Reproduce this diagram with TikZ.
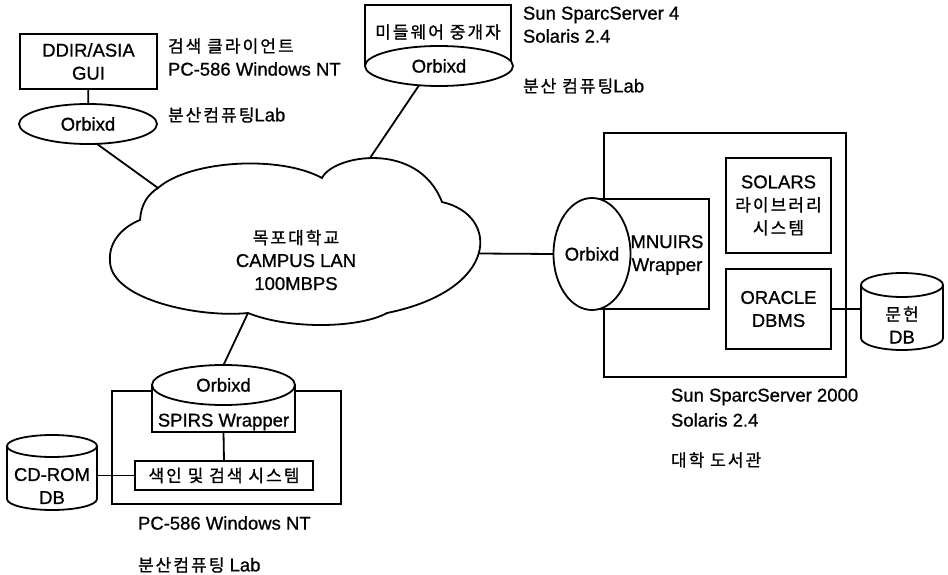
\documentclass[tikz,border=0pt]{standalone}
\usepackage{fontspec}
\setmainfont[FakeBold=0.9]{Liberation Sans}
\newfontfamily\kr[Scale=0.92,LetterSpace=12,FakeBold=0.9]{Noto Sans CJK KR}
\usetikzlibrary{shapes.geometric}
\begin{document}
\begin{tikzpicture}[x=1pt,y=-1pt,
  every node/.style={font=\fontsize{18.5}{23}\selectfont, inner sep=0pt, outer sep=0pt},
  ln/.style={line width=1.8pt},
  box/.style={draw, line width=1.8pt, fill=white, rectangle},
  orb/.style={draw, line width=1.8pt, fill=white, ellipse},
  lbl/.style={anchor=west},
]
\useasboundingbox[fill=white] (0,0) rectangle (948,575);

% ---------- top-left client ----------
\node[box, minimum width=137, minimum height=55, align=center] (gui) at (88.5,61.5) {DDIR/ASIA\\GUI};
\node[orb, minimum width=138, minimum height=40] (orb1) at (88,124) {Orbixd};
\draw[ln] (gui) -- (orb1);
\node[lbl] (t1) at (168,46) {\kr 검색 클라이언트};
\node[lbl] (t2) at (168,69) {PC-586 Windows NT};
\node[lbl] (t3) at (168,115) {{\kr 분산컴퓨팅}Lab};

% ---------- top middleware ----------
\node[box, minimum width=146, minimum height=61] (mw) at (438,35.5) {};
\node (mwT) at (438,32) {\kr 미들웨어 중개자};
\node[orb, minimum width=148, minimum height=40] (orb2) at (439,66) {Orbixd};
\node[lbl] (t4) at (523,15) {Sun SparcServer 4};
\node[lbl] (t5) at (523,36) {Solaris 2.4};
\node[lbl] (t6) at (523,86) {{\kr 분산 컴퓨팅}Lab};

% ---------- cloud ----------
\draw[ln] (140,220) .. controls (141,205) and (147,195) .. (158,188)
  .. controls (190,160) and (280,155) .. (322,178)
  .. controls (333,155) and (418,140) .. (442,202)
  .. controls (500,215) and (500,290) .. (387,313)
  .. controls (360,328) and (290,330) .. (248,313)
  .. controls (200,318) and (112,300) .. (110,262)
  .. controls (108,240) and (125,226) .. cycle;
\coordinate (cl1) at (158,188);
\coordinate (cl2) at (370,158);
\coordinate (cl3) at (478.6,253.5);
\coordinate (cl4) at (248,313);
\node[align=center] (lan) at (296,260) {{\kr 목포대학교}\\CAMPUS LAN\\100MBPS};

% ---------- right server ----------
\node[box, minimum width=242, minimum height=244] (srv) at (725,255) {};
\node[box, minimum width=117, minimum height=110] (mnu) at (650.5,254) {};
\node[align=center] (mnuT) at (667,255) {MNUIRS\\Wrapper};
\node[orb, minimum width=62, minimum height=112] (orb4) at (592,254) {Orbixd};
\node[box, minimum width=105, minimum height=95, align=center] (sol) at (778.5,205.5) {SOLARS\\{\kr 라이브러리}\\{\kr 시스템}};
\node[box, minimum width=105, minimum height=80, align=center] (ora) at (778.5,309) {ORACLE\\DBMS};

\node[minimum width=82, minimum height=77] (mdb) at (902,311.5) {};
\draw[ln, fill=white] ([yshift=-12pt]mdb.north west) -- ([yshift=12pt]mdb.south west)
  arc[start angle=180, end angle=360, x radius=41pt, y radius=12pt]
  -- ([yshift=-12pt]mdb.north east);
\draw[ln] ([yshift=-12pt]mdb.north) ellipse [x radius=41pt, y radius=12pt];
\node[align=center] (mdbT) at ([yshift=-13.5pt]mdb.center) {{\kr 문헌}\\DB};
\draw[ln] (ora.east) -- (ora.east -| mdb.west);

\node[lbl] (t7) at (671,397) {Sun SparcServer 2000};
\node[lbl] (t8) at (671,420) {Solaris 2.4};
\node[lbl] (t9) at (671,460) {\kr 대학 도서관};

% ---------- bottom-left PC ----------
\node[box, minimum width=229, minimum height=113] (pcb) at (226.5,447.5) {};
\node[box, minimum width=143, minimum height=47] (spirs) at (223.5,408.5) {};
\node (spirsT) at (223.5,422) {SPIRS Wrapper};
\node[orb, minimum width=143, minimum height=40] (orb3) at (223.5,385) {Orbixd};
\node[box, minimum width=178, minimum height=29] (idx) at (224,475.5) {\kr 색인 및 검색 시스템};
\draw[ln] (spirs.south) -- (idx.north);

\node[minimum width=90, minimum height=75] (cdr) at (52,472.5) {};
\draw[ln, fill=white] ([yshift=-11pt]cdr.north west) -- ([yshift=11pt]cdr.south west)
  arc[start angle=180, end angle=360, x radius=45pt, y radius=11pt]
  -- ([yshift=-11pt]cdr.north east);
\draw[ln] ([yshift=-11pt]cdr.north) ellipse [x radius=45pt, y radius=11pt];
\node[align=center] (cdrT) at ([yshift=-13.5pt]cdr.center) {CD-ROM\\DB};
\draw[ln] (idx.west) -- (idx.west -| cdr.east);

\node[lbl] (t10) at (138,523) {PC-586 Windows NT};
\node[lbl] (t11) at (138,565) {{\kr 분산컴퓨팅} Lab};

% ---------- network links ----------
\draw[ln] (orb1.-66) -- (cl1);
\draw[ln] (orb2.-136) -- (cl2);
\draw[ln] (cl3) -- (orb4.west);
\draw[ln] (cl4) -- (orb3.north);
\end{tikzpicture}
\end{document}
